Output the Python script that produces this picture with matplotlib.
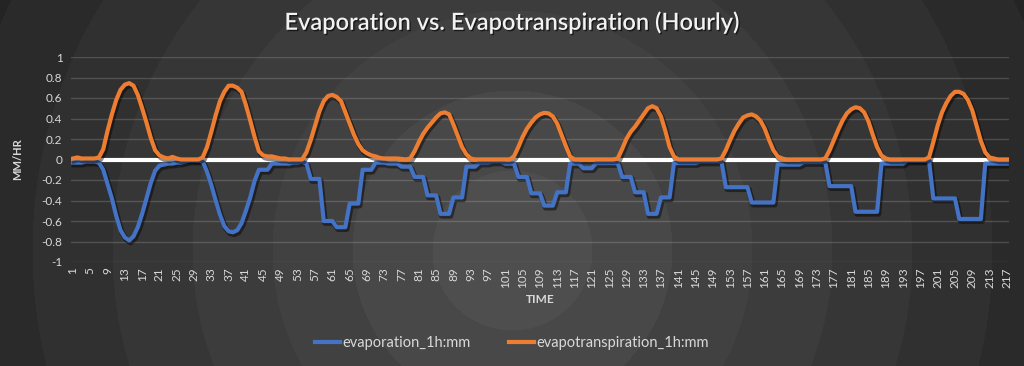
import matplotlib
matplotlib.use("Agg")
import matplotlib.pyplot as plt
import matplotlib.patheffects as pe
from matplotlib.lines import Line2D
import numpy as np

plt.rcParams["font.family"] = ["Lato", "DejaVu Sans"]

# hourly values (mm/hr), hour index 1..217
evapotranspiration = [
    0.01, 0.02, 0.01, 0.01, 0.01, 0.01, 0.02, 0.10, 0.28, 0.44, 0.58, 0.68, 0.73, 0.745, 0.72, 0.63, 0.50, 0.36, 0.21, 0.09, 0.04, 0.02, 0.01, 0.025,
    0.01, 0.00, 0.00, 0.00, 0.00, 0.00, 0.02, 0.12, 0.27, 0.43, 0.57, 0.66, 0.72, 0.72, 0.70, 0.66, 0.53, 0.38, 0.22, 0.08, 0.04, 0.03, 0.03, 0.02,
    0.01, 0.01, 0.00, 0.00, 0.00, 0.00, 0.07, 0.19, 0.33, 0.47, 0.57, 0.62, 0.63, 0.61, 0.57, 0.46, 0.35, 0.24, 0.15, 0.09, 0.06, 0.04, 0.03, 0.015,
    0.01, 0.01, 0.01, 0.01, 0.005, 0.00, 0.01, 0.08, 0.17, 0.25, 0.31, 0.36, 0.41, 0.45, 0.46, 0.44, 0.34, 0.23, 0.12, 0.05, 0.01, 0.00, 0.00, 0.00,
    0.00, 0.00, 0.00, 0.00, 0.00, 0.00, 0.03, 0.12, 0.22, 0.30, 0.36, 0.41, 0.44, 0.455, 0.45, 0.42, 0.35, 0.24, 0.13, 0.03, 0.00, 0.00, 0.00, 0.00,
    0.00, 0.00, 0.00, 0.00, 0.00, 0.00, 0.01, 0.10, 0.20, 0.27, 0.32, 0.38, 0.44, 0.50, 0.52, 0.50, 0.42, 0.28, 0.12, 0.03, 0.00, 0.00, 0.00, 0.00,
    0.00, 0.00, 0.00, 0.00, 0.00, 0.00, 0.01, 0.09, 0.19, 0.28, 0.35, 0.41, 0.43, 0.44, 0.42, 0.38, 0.30, 0.19, 0.09, 0.03, 0.01, 0.00, 0.00, 0.00,
    0.00, 0.00, 0.00, 0.00, 0.00, 0.00, 0.01, 0.09, 0.19, 0.29, 0.38, 0.45, 0.49, 0.51, 0.50, 0.46, 0.37, 0.24, 0.12, 0.04, 0.01, 0.00, 0.00, 0.00,
    0.00, 0.00, 0.00, 0.00, 0.00, 0.00, 0.02, 0.17, 0.33, 0.46, 0.55, 0.62, 0.66, 0.66, 0.64, 0.58, 0.48, 0.33, 0.18, 0.07, 0.02, 0.01, 0.00, 0.00,
    0.00,
]

evaporation = [
    -0.03, -0.03, -0.03, -0.02, -0.02, -0.02, -0.03, -0.10, -0.24, -0.38, -0.55, -0.69, -0.76, -0.79, -0.75, -0.66, -0.53, -0.38, -0.23, -0.11, -0.06, -0.05, -0.04, -0.04,
    -0.03, -0.03, -0.02, -0.01, -0.01, -0.01, -0.02, -0.12, -0.25, -0.40, -0.54, -0.65, -0.70, -0.71, -0.69, -0.62, -0.50, -0.37, -0.21, -0.10, -0.10, -0.10, -0.04, -0.04,
    -0.04, -0.04, -0.04, -0.03, -0.03, -0.02, -0.04, -0.19, -0.19, -0.19, -0.60, -0.60, -0.60, -0.66, -0.66, -0.66, -0.43, -0.43, -0.43, -0.10, -0.10, -0.10, -0.03, -0.03,
    -0.03, -0.04, -0.04, -0.04, -0.07, -0.07, -0.07, -0.17, -0.17, -0.17, -0.35, -0.35, -0.35, -0.53, -0.53, -0.53, -0.37, -0.37, -0.37, -0.07, -0.07, -0.07, -0.03, -0.03,
    -0.03, -0.02, -0.02, -0.02, -0.04, -0.04, -0.04, -0.17, -0.17, -0.17, -0.33, -0.33, -0.33, -0.45, -0.45, -0.45, -0.32, -0.32, -0.32, -0.04, -0.04, -0.04, -0.085, -0.085,
    -0.085, -0.035, -0.035, -0.035, -0.035, -0.035, -0.035, -0.17, -0.17, -0.17, -0.32, -0.32, -0.32, -0.53, -0.53, -0.53, -0.37, -0.37, -0.37, -0.035, -0.035, -0.035, -0.035, -0.035,
    -0.035, -0.02, -0.02, -0.02, -0.02, -0.02, -0.02, -0.27, -0.27, -0.27, -0.27, -0.27, -0.27, -0.42, -0.42, -0.42, -0.42, -0.42, -0.42, -0.05, -0.05, -0.05, -0.05, -0.05,
    -0.05, -0.025, -0.025, -0.025, -0.025, -0.025, -0.025, -0.26, -0.26, -0.26, -0.26, -0.26, -0.26, -0.51, -0.51, -0.51, -0.51, -0.51, -0.51, -0.04, -0.04, -0.04, -0.04, -0.04,
    -0.04, -0.01, -0.01, -0.01, -0.01, -0.01, -0.01, -0.38, -0.38, -0.38, -0.38, -0.38, -0.38, -0.58, -0.58, -0.58, -0.58, -0.58, -0.58, -0.04, -0.04, -0.04, -0.04, -0.04,
    -0.04,
]

hours = np.arange(1, len(evaporation) + 1)
y_ticks = [1, 0.8, 0.6, 0.4, 0.2, 0, -0.2, -0.4, -0.6, -0.8, -1]
y_labels = ["1", "0.8", "0.6", "0.4", "0.2", "0", "-0.2", "-0.4", "-0.6", "-0.8", "-1"]

blue = "#4472C4"
orange = "#ED7D31"
txt = "#d9d9d9"

W, H = 1024, 366
fig = plt.figure(figsize=(W / 100, H / 100), dpi=100)

# banded radial background
bg = fig.add_axes([0, 0, 1, 1])
yy, xx = np.mgrid[0:H, 0:W]
r = np.sqrt((xx - 512) ** 2 + (yy - 250) ** 2)
level = np.floor(r / 80)
shade = np.clip(78 - level * 6, 32, 90) / 255.0
bg.imshow(shade, cmap="gray", vmin=0, vmax=1, extent=(0, 1, 0, 1), aspect="auto", origin="upper")
bg.set_axis_off()

ax = fig.add_axes([70.8 / W, 104 / H, (1009 - 70.8) / W, 205 / H])
ax.set_facecolor("none")

shadow = [pe.SimpleLineShadow(offset=(1, -1.5), shadow_color="black", alpha=0.45, linewidth=4), pe.Normal()]

ax.axhline(0, color="white", lw=3, zorder=1)
ax.plot(hours, evaporation, color=blue, lw=3, zorder=3, solid_joinstyle="round", path_effects=shadow)
ax.plot(hours, evapotranspiration, color=orange, lw=3, zorder=4, solid_joinstyle="round", path_effects=shadow)

ax.set_xlim(0.5, len(hours) + 0.5)
ax.set_ylim(-1, 1)
ax.set_yticks(y_ticks)
ax.set_yticklabels(y_labels)
ax.yaxis.grid(True, color="white", alpha=0.16, lw=1)
ax.set_axisbelow(True)
ax.set_xticks(hours[::4])
ax.set_xticklabels([str(h) for h in hours[::4]], rotation=90)
ax.tick_params(axis="both", length=0, colors=txt, labelsize=8.5)
ax.tick_params(axis="x", pad=4)
ax.tick_params(axis="y", pad=6)
for s in ax.spines.values():
    s.set_visible(False)

ax.set_ylabel("MM/HR", color=txt, fontsize=8, fontweight="bold", labelpad=13)
ax.set_xlabel("TIME", color=txt, fontsize=8.5, fontweight="bold", labelpad=4)

fig.text(0.5, 1 - 22 / H, "Evaporation vs. Evapotranspiration (Hourly)", ha="center", va="center",
         color="#f2f2f2", fontsize=17, fontweight="semibold",
         path_effects=[pe.SimplePatchShadow(offset=(1, -1), shadow_rgbFace="black", alpha=0.6), pe.Normal()])

handles = [Line2D([], [], color=blue, lw=3), Line2D([], [], color=orange, lw=3)]
fig.legend(handles, ["evaporation_1h:mm", "evapotranspiration_1h:mm"], loc="center",
           bbox_to_anchor=(0.5, 1 - 343 / H), ncol=2, frameon=False, labelcolor=txt,
           fontsize=10.5, handlelength=1.7, handletextpad=0.2, columnspacing=2.6)

fig.savefig("out.png", dpi=100)
